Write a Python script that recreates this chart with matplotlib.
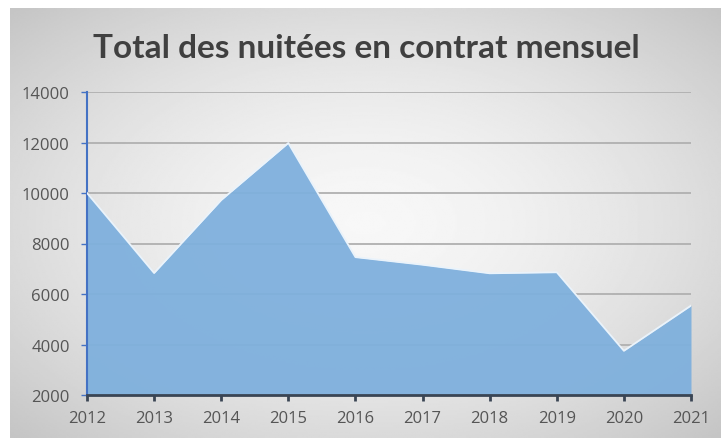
import numpy as np
import matplotlib
matplotlib.use('Agg')
import matplotlib.pyplot as plt

years = [2012, 2013, 2014, 2015, 2016, 2017, 2018, 2019, 2020, 2021]
nuitees = [10000, 6830, 9720, 11980, 7460, 7160, 6820, 6860, 3750, 5540]
y_ticks = [2000, 4000, 6000, 8000, 10000, 12000, 14000]

fig = plt.figure(figsize=(7.21, 4.39), dpi=100)
fig.patch.set_facecolor('white')

# gradient background (light centre, grey edges)
bg = fig.add_axes([10 / 721, 0, 711 / 721, 430 / 439])
gx, gy = np.meshgrid(np.linspace(-1, 1, 400), np.linspace(-1, 1, 250))
r = np.sqrt(gx ** 2 + gy ** 2) / np.sqrt(2)
bg.imshow(0.97 - 0.20 * r ** 1.6, cmap='gray', vmin=0, vmax=1,
          aspect='auto', extent=[0, 1, 0, 1])
bg.axis('off')

ax = fig.add_axes([87 / 721, 43 / 439, 604 / 721, 303 / 439])
ax.set_facecolor('none')
ax.fill_between(years, nuitees, 2000, color='#7fb0dd', alpha=0.95, zorder=2,
                linewidth=0)
ax.plot(years, nuitees, color='#eaf3fb', lw=1.3, zorder=3)

ax.set_xlim(2012, 2021)
ax.set_ylim(2000, 14000)
ax.set_xticks(years)
ax.set_yticks(y_ticks)
ax.grid(axis='y', color='#b0b0b0', lw=1.3, zorder=1)
ax.set_axisbelow(True)

for s in ['top', 'right']:
    ax.spines[s].set_visible(False)
ax.spines['left'].set_color('#4472c4')
ax.spines['left'].set_linewidth(1.5)
ax.spines['bottom'].set_color('#3a4554')
ax.spines['bottom'].set_linewidth(2)
ax.tick_params(axis='x', length=4.5, width=2, color='#3a4554', labelsize=12,
               labelcolor='#555555', pad=6)
ax.tick_params(axis='y', length=4.5, width=1, color='#4472c4', labelsize=12,
               labelcolor='#555555', pad=8)
for lab in ax.get_xticklabels() + ax.get_yticklabels():
    lab.set_fontfamily('Open Sans')

fig.text(366 / 721, 1 - 48 / 439, 'Total des nuitées en contrat mensuel',
         ha='center', va='center', fontsize=24, fontweight='bold',
         family='Lato', color='#404040')

fig.savefig('out.png', dpi=100)
